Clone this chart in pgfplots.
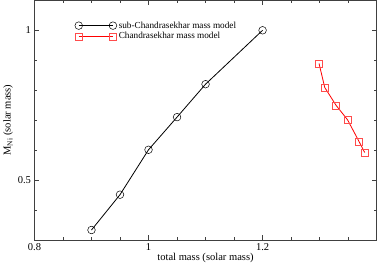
\documentclass[border=0pt]{standalone}
\usepackage{pgfplots}
\pgfplotsset{compat=1.18}
\usepackage{fontspec}
\setmainfont{Liberation Serif}
\begin{document}
\begin{tikzpicture}
\begin{axis}[
  scale only axis=true,
  width=340bp, height=238bp,
  xmin=0.8, xmax=1.4, ymin=0.3, ymax=1.1,
  xtick={0.8,1,1.2}, ytick={0.5,1},
  minor xtick={0.85,0.9,0.95,1.05,1.1,1.15,1.25,1.3,1.35},
  minor ytick={0.4,0.6,0.7,0.8,0.9},
  xticklabels={0.8,1,1.2}, yticklabels={0.5,1},
  tick align=inside,
  major tick length=5bp, minor tick length=3bp,
  axis line style={draw=black!75, line width=0.7pt},
  every tick/.style={draw=black!75, line width=0.7pt},
  /pgf/number format/assume math mode=true,
  tick label style={font=\fontsize{10.5}{12}\selectfont},
  label style={font=\fontsize{10.5}{12}\selectfont},
  xlabel={total mass (solar mass)},
  ylabel={M\textsubscript{Ni} (solar mass)},
  xlabel style={yshift=4bp},
  ylabel style={yshift=-2bp},
  legend cell align=left,
  legend style={at={(40bp,219bp)}, anchor=north west, draw=none, fill=none,
    font=\fontsize{9.2}{10}\selectfont, row sep=-1.2bp, inner sep=0pt},
  legend image code/.code={\draw[#1] plot coordinates {(0bp,0bp) (34bp,0bp)};},
]
\addplot[black, line width=0.8pt, mark=o, mark size=3.8bp, mark options={line width=0.5pt}]
  coordinates {(0.9,0.333) (0.95,0.451) (1.0,0.601) (1.05,0.71) (1.1,0.82) (1.2,1.0)};
\addlegendentry{sub-Chandrasekhar mass model}
\addplot[red, line width=0.8pt, mark=square, mark size=3.5bp, mark options={line width=0.5pt, draw=red!70}]
  coordinates {(1.299,0.889) (1.309,0.809) (1.329,0.749) (1.349,0.701) (1.369,0.629) (1.379,0.592)};
\addlegendentry{Chandrasekhar mass model}
\end{axis}
\end{tikzpicture}
\end{document}
